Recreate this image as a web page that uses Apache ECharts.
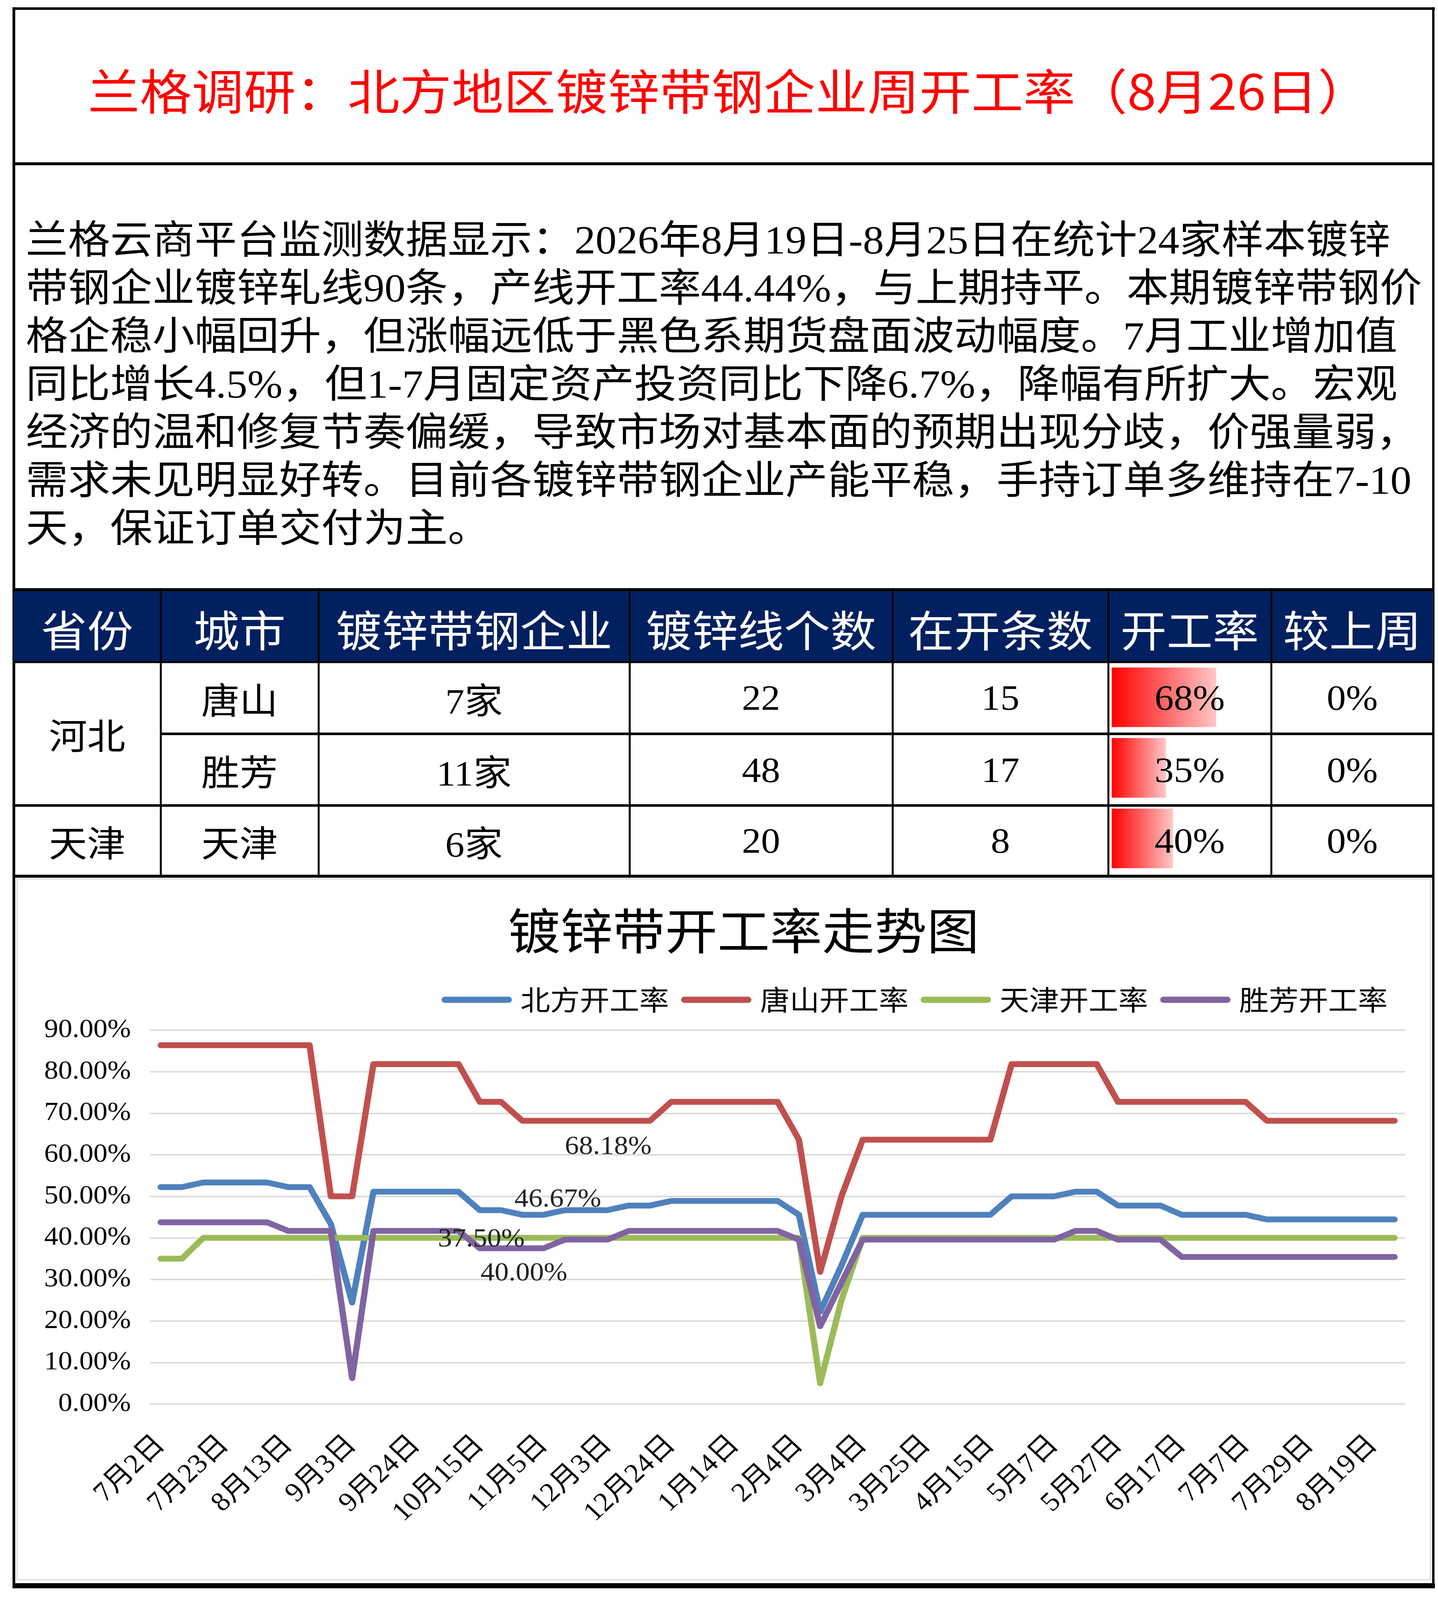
<!DOCTYPE html>
<html>
<head>
    <meta charset="UTF-8">
    <title>镀锌带钢企业周开工率</title>
    <script src="https://cdn.jsdelivr.net/npm/echarts@6/dist/echarts.min.js"></script>
    <style>
        html, body { margin: 0; padding: 0; background: #fff; overflow: hidden; }
        #page { position: relative; width: 3680px; height: 4377px; background: #fff; overflow: hidden; transform-origin: 0 0; }
        #chart { position: absolute; left: 0; top: 0; width: 3680px; height: 4377px; z-index: 0; }
        #sheet { position: absolute; left: 0; top: 0; width: 3680px; height: 4377px; z-index: 1; pointer-events: none; }
        .cell { position: absolute; display: flex; align-items: center; justify-content: center; white-space: nowrap; }
        .line { position: absolute; background: #000; }
    </style>
</head>
<body>
<div id="page">
    <div id="chart"></div>
    <div id="sheet"></div>
</div>

<script type="text/javascript">
    // 周度日期（每3周显示一个标签）
    var weeks = ['7月2日', '7月9日', '7月16日', '7月23日', '7月30日', '8月6日', '8月13日', '8月20日', '8月27日',
        '9月3日', '9月10日', '9月17日', '9月24日', '9月30日', '10月9日', '10月15日', '10月22日', '10月29日',
        '11月5日', '11月12日', '11月19日', '12月3日', '12月10日', '12月17日', '12月24日', '12月31日', '1月7日',
        '1月14日', '1月21日', '1月28日', '2月4日', '2月11日', '2月25日', '3月4日', '3月11日', '3月18日',
        '3月25日', '4月1日', '4月8日', '4月15日', '4月22日', '4月29日', '5月7日', '5月14日', '5月21日',
        '5月27日', '6月3日', '6月10日', '6月17日', '6月24日', '7月1日', '7月7日', '7月14日', '7月22日',
        '7月29日', '8月5日', '8月12日', '8月19日', '8月26日'];

    // 开工率（%）
    var northRate = [52.22, 52.22, 53.33, 53.33, 53.33, 53.33, 52.22, 52.22, 43.33, 24.44,
        51.11, 51.11, 51.11, 51.11, 51.11, 46.67, 46.67, 45.56, 45.56, 46.67,
        46.67, 46.67, 47.78, 47.78, 48.89, 48.89, 48.89, 48.89, 48.89, 48.89,
        45.56, 22.22, 33.33, 45.56, 45.56, 45.56, 45.56, 45.56, 45.56, 45.56,
        50.00, 50.00, 50.00, 51.11, 51.11, 47.78, 47.78, 47.78, 45.56, 45.56,
        45.56, 45.56, 44.44, 44.44, 44.44, 44.44, 44.44, 44.44, 44.44];
    var tangshanRate = [86.36, 86.36, 86.36, 86.36, 86.36, 86.36, 86.36, 86.36, 50.00, 50.00,
        81.82, 81.82, 81.82, 81.82, 81.82, 72.73, 72.73, 68.18, 68.18, 68.18,
        68.18, 68.18, 68.18, 68.18, 72.73, 72.73, 72.73, 72.73, 72.73, 72.73,
        63.64, 31.82, 50.00, 63.64, 63.64, 63.64, 63.64, 63.64, 63.64, 63.64,
        81.82, 81.82, 81.82, 81.82, 81.82, 72.73, 72.73, 72.73, 72.73, 72.73,
        72.73, 72.73, 68.18, 68.18, 68.18, 68.18, 68.18, 68.18, 68.18];
    var tianjinRate = [35, 35, 40, 40, 40, 40, 40, 40, 40, 40,
        40, 40, 40, 40, 40, 40, 40, 40, 40, 40,
        40, 40, 40, 40, 40, 40, 40, 40, 40, 40,
        40, 5, 25, 40, 40, 40, 40, 40, 40, 40,
        40, 40, 40, 40, 40, 40, 40, 40, 40, 40,
        40, 40, 40, 40, 40, 40, 40, 40, 40];
    var shengfangRate = [43.75, 43.75, 43.75, 43.75, 43.75, 43.75, 41.67, 41.67, 41.67, 6.25,
        41.67, 41.67, 41.67, 41.67, 41.67, 37.50, 37.50, 37.50, 37.50, 39.58,
        39.58, 39.58, 41.67, 41.67, 41.67, 41.67, 41.67, 41.67, 41.67, 41.67,
        39.58, 18.75, 29.17, 39.58, 39.58, 39.58, 39.58, 39.58, 39.58, 39.58,
        39.58, 39.58, 39.58, 41.67, 41.67, 39.58, 39.58, 39.58, 35.42, 35.42,
        35.42, 35.42, 35.42, 35.42, 35.42, 35.42, 35.42, 35.42, 35.42];

    var seriesNames = ['北方开工率', '唐山开工率', '天津开工率', '胜芳开工率'];
    var yTicks = [0, 10, 20, 30, 40, 50, 60, 70, 80, 90];

    // 表格
    var tableHead = ['省份', '城市', '镀锌带钢企业', '镀锌线个数', '在开条数', '开工率', '较上周'];
    var provinces = ['河北', '天津'];
    var cities = ['唐山', '胜芳', '天津'];
    var companies = ['7家', '11家', '6家'];
    var lineCount = [22, 48, 20];
    var runningCount = [15, 17, 8];
    var openRate = [68.18, 35.42, 40.00];
    var weekChange = ['0%', '0%', '0%'];

    var paragraph = [
        '兰格云商平台监测数据显示：2026年8月19日-8月25日在统计24家样本镀锌',
        '带钢企业镀锌轧线90条，产线开工率44.44%，与上期持平。本期镀锌带钢价',
        '格企稳小幅回升，但涨幅远低于黑色系期货盘面波动幅度。7月工业增加值',
        '同比增长4.5%，但1-7月固定资产投资同比下降6.7%，降幅有所扩大。宏观',
        '经济的温和修复节奏偏缓，导致市场对基本面的预期出现分歧，价强量弱，',
        '需求未见明显好转。目前各镀锌带钢企业产能平稳，手持订单多维持在7-10',
        '天，保证订单交付为主。'
    ];

    var SERIF = '"Liberation Serif", "Noto Sans CJK SC", serif';
    var SANS = '"Noto Sans CJK SC", sans-serif';

    // 窗口不够高时整体纵向压缩，保证整页都能拍到
    var page = document.getElementById('page');
    var fitY = Math.min(1, (window.innerHeight || 4377) / 4377);
    if (fitY < 1) {
        page.style.transform = 'scale(1,' + fitY + ')';
    }

    // ---------- 页面框架、标题、文字、表格 ----------
    var sheet = document.getElementById('sheet');

    function box(x, y, w, h, cls, css) {
        var d = document.createElement('div');
        d.className = cls;
        d.style.left = x + 'px';
        d.style.top = y + 'px';
        d.style.width = w + 'px';
        d.style.height = h + 'px';
        if (css) d.style.cssText += css;
        sheet.appendChild(d);
        return d;
    }

    function txt(x, y, w, h, s, css) {
        var d = box(x, y, w, h, 'cell', css);
        d.textContent = s;
        return d;
    }

    // 外框
    box(32, 20, 3640, 7, 'line');
    box(32, 20, 7, 4325, 'line');
    box(3665, 20, 6, 4325, 'line');
    box(32, 4331, 3640, 14, 'line');
    box(35, 444, 3633, 8, 'line');

    // 大标题
    txt(65, 40, 3600, 404, '兰格调研：北方地区镀锌带钢企业周开工率（8月26日）',
        'color:#ff0000;font-size:133px;font-family:' + SANS + ';');

    // 说明文字
    paragraph.forEach(function (s, i) {
        var d = box(66, 591 + i * 131.5, 3600, 131.5, '',
            'position:absolute;white-space:nowrap;font-size:108px;line-height:131.5px;color:#000;font-family:' + SERIF + ';');
        d.textContent = s;
    });

    // 表格
    var colX = [35, 411, 815, 1611, 2284, 2836, 3253, 3668];
    var rowY = [1814, 2011, 2207];
    var rowH = [190, 189, 186];

    box(35, 1618, 3633, 190, '', 'position:absolute;background:#002060;');
    tableHead.forEach(function (s, i) {
        txt(colX[i], 1618, colX[i + 1] - colX[i], 200, s,
            'color:#fff;font-size:118px;font-family:' + SERIF + ';');
    });

    var bodyCss = 'color:#000;font-size:98px;font-family:' + SERIF + ';';
    txt(colX[0], rowY[0], colX[1] - colX[0], 386, provinces[0], bodyCss);
    txt(colX[0], rowY[2], colX[1] - colX[0], rowH[2], provinces[1], bodyCss);
    for (var r = 0; r < 3; r++) {
        var vals = [cities[r], companies[r], String(lineCount[r]), String(runningCount[r]),
            Math.round(openRate[r]) + '%', weekChange[r]];
        for (var c = 0; c < vals.length; c++) {
            txt(colX[c + 1], rowY[r], colX[c + 2] - colX[c + 1], rowH[r], vals[c], bodyCss);
        }
    }

    // 表格线
    box(35, 1609, 3633, 9, 'line');
    box(35, 1808, 3633, 6, 'line');
    box(411, 2004, 3257, 7, 'line');
    box(35, 2200, 3633, 7, 'line');
    box(35, 2393, 3633, 8, 'line');
    for (var k = 1; k < colX.length - 1; k++) {
        box(colX[k] - 2, 1609, 5, 792, 'line');
    }

    // 图表区边框
    box(42, 2403, 3620, 1920, '', 'position:absolute;box-sizing:border-box;border:3px solid #d9d9d9;');

    // ---------- ECharts ----------
    var chart = echarts.init(document.getElementById('chart'), null, {width: 3680, height: 4377});

    function lineSeries(name, data, color, labelIdx, offset) {
        return {
            name: name,
            type: 'line',
            data: data.map(function (v, i) {
                if (i === labelIdx) {
                    return {value: v, label: {show: true, position: 'inside', offset: offset}};
                }
                return v;
            }),
            xAxisIndex: 0,
            yAxisIndex: 0,
            symbol: 'circle',
            symbolSize: 1,
            showSymbol: true,
            showAllSymbol: true,
            itemStyle: {color: color},
            lineStyle: {color: color, width: 16, cap: 'round', join: 'round'},
            label: {
                show: false,
                fontSize: 72,
                fontFamily: SERIF,
                color: '#222',
                formatter: function (p) {
                    return p.value.toFixed(2) + '%';
                }
            },
            emphasis: {disabled: true},
            animation: false
        };
    }

    var option = {
        animation: false,
        title: {
            text: '镀锌带开工率走势图',
            left: 1295,
            top: 2474,
            textStyle: {fontSize: 134, fontWeight: 'normal', color: '#000', fontFamily: SANS}
        },
        legend: {
            data: seriesNames,
            left: 1125,
            top: 2692,
            itemWidth: 180,
            itemHeight: 17,
            itemGap: 31,
            icon: 'path://M8.5,0 H171.5 A8.5,8.5 0 0 1 171.5,17 H8.5 A8.5,8.5 0 0 1 8.5,0 Z',
            textStyle: {fontSize: 76, color: '#000', fontFamily: SANS, padding: [0, 0, 0, 17]}
        },
        grid: [
            {left: 384, right: 84, top: 2818, bottom: 536},
            {left: 2845, top: 1811, width: 392, height: 579}
        ],
        xAxis: [
            {
                type: 'category',
                gridIndex: 0,
                data: weeks,
                boundaryGap: true,
                axisLine: {show: true, lineStyle: {color: '#d9d9d9', width: 4}},
                axisTick: {show: false},
                axisLabel: {
                    interval: 2,
                    rotate: 45,
                    margin: 100,
                    fontSize: 74,
                    color: '#000',
                    fontFamily: SERIF
                }
            },
            {type: 'value', gridIndex: 1, min: 0, max: 100, show: false}
        ],
        yAxis: [
            {
                type: 'value',
                gridIndex: 0,
                min: yTicks[0],
                max: yTicks[yTicks.length - 1],
                interval: 10,
                axisLine: {show: false},
                axisTick: {show: false},
                splitLine: {lineStyle: {color: '#d9d9d9', width: 4}},
                axisLabel: {
                    margin: 49,
                    fontSize: 72,
                    color: '#000',
                    fontFamily: SERIF,
                    formatter: function (v) {
                        return v.toFixed(2) + '%';
                    }
                }
            },
            {type: 'category', gridIndex: 1, data: cities, inverse: true, show: false}
        ],
        series: [
            lineSeries(seriesNames[0], northRate, '#4F81BD', 19, [-18, -28]),
            lineSeries(seriesNames[1], tangshanRate, '#C0504D', 21, [2, 72]),
            lineSeries(seriesNames[2], tianjinRate, '#9BBB59', 17, [4, 98]),
            lineSeries(seriesNames[3], shengfangRate, '#8064A2', 15, [4, -24]),
            {
                name: '开工率',
                type: 'bar',
                xAxisIndex: 1,
                yAxisIndex: 1,
                data: openRate,
                barWidth: 163,
                itemStyle: {
                    color: new echarts.graphic.LinearGradient(0, 0, 1, 0, [
                        {offset: 0, color: '#ff0000'},
                        {offset: 1, color: '#ffc8c8'}
                    ])
                },
                emphasis: {disabled: true},
                animation: false
            }
        ]
    };

    option && chart.setOption(option);
</script>
</body>
</html>
